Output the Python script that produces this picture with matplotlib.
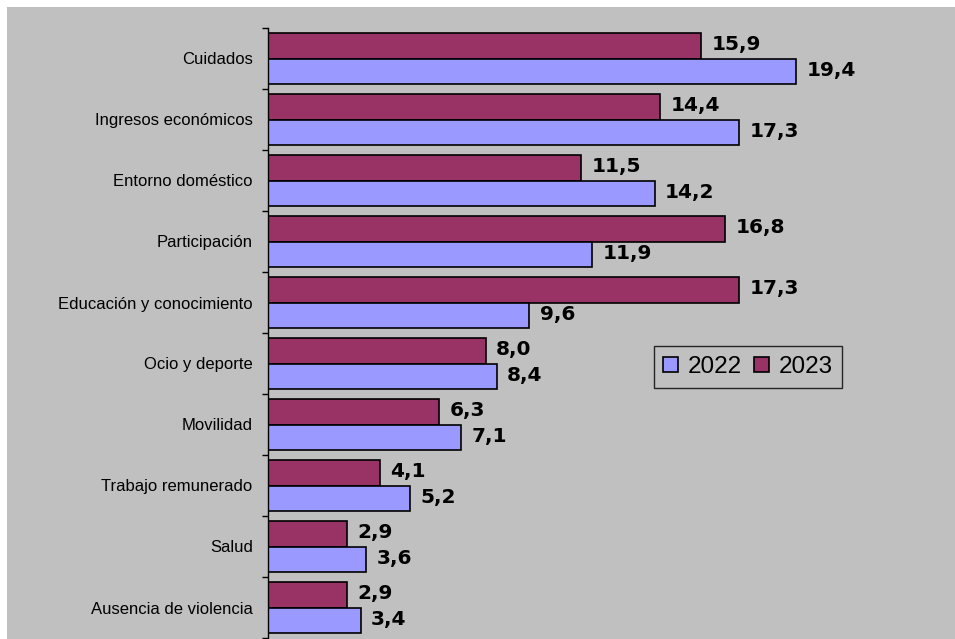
import matplotlib
matplotlib.use("Agg")
import matplotlib.pyplot as plt
from matplotlib.patches import Rectangle, Patch
import numpy as np

categories = ["Cuidados", "Ingresos económicos", "Entorno doméstico", "Participación",
              "Educación y conocimiento", "Ocio y deporte", "Movilidad",
              "Trabajo remunerado", "Salud", "Ausencia de violencia"]
values_2022 = [19.4, 17.3, 14.2, 11.9, 9.6, 8.4, 7.1, 5.2, 3.6, 3.4]
values_2023 = [15.9, 14.4, 11.5, 16.8, 17.3, 8.0, 6.3, 4.1, 2.9, 2.9]
series_labels = ["2022", "2023"]

C2022 = "#9999FF"
C2023 = "#993366"
BG = "#C0C0C0"

W, H = 955, 639
fig = plt.figure(figsize=(W / 100, H / 100), dpi=100)
fig.patch.set_facecolor("white")
fig.patches.append(Rectangle((7 / W, 0), 1 - 7 / W, 1 - 7 / H, transform=fig.transFigure,
                             facecolor=BG, edgecolor="none", zorder=-10))

ax = fig.add_axes([268 / W, 1 / H, 672 / W, 610 / H])
ax.set_facecolor("none")
ax.set_zorder(1)

n = len(categories)
y = np.arange(n)
bh = 0.426
ax.barh(y - bh / 2, values_2023, height=bh, color=C2023, edgecolor="black", linewidth=1.2)
ax.barh(y + bh / 2, values_2022, height=bh, color=C2022, edgecolor="black", linewidth=1.2)

ax.set_xlim(0, 672 / 27.22)
ax.set_ylim(n - 0.5, -0.5)

for spine in ["top", "right", "bottom"]:
    ax.spines[spine].set_visible(False)
ax.spines["left"].set_color("black")
ax.spines["left"].set_linewidth(1.0)
ax.set_xticks([])

ax.set_yticks(y)
ax.set_yticklabels(categories, fontsize=12, family="Liberation Sans")
ax.tick_params(axis="y", which="major", length=0, pad=11)
ax.set_yticks(np.arange(n + 1) - 0.5, minor=True)
ax.tick_params(axis="y", which="minor", length=4.5, width=1, color="black")

def fmt(v):
    return f"{v:.1f}".replace(".", ",")

for i in range(n):
    ax.annotate(fmt(values_2023[i]), xy=(values_2023[i], y[i] - bh / 2), xytext=(7.5, 1),
                textcoords="offset points", va="center", ha="left",
                fontsize=14.5, fontweight="bold", family="DejaVu Sans")
    ax.annotate(fmt(values_2022[i]), xy=(values_2022[i], y[i] + bh / 2), xytext=(7.5, 1),
                textcoords="offset points", va="center", ha="left",
                fontsize=14.5, fontweight="bold", family="DejaVu Sans")

handles = [Patch(facecolor=C2022, edgecolor="black", linewidth=1.2, label=series_labels[0]),
           Patch(facecolor=C2023, edgecolor="black", linewidth=1.2, label=series_labels[1])]
leg = fig.legend(handles=handles, loc="center", bbox_to_anchor=(748 / W, 1 - 367 / H),
                 ncol=2, frameon=True, fancybox=False,
                 handlelength=0.6, handleheight=0.6, handletextpad=0.4,
                 columnspacing=0.5, borderpad=0.4, prop={"family": "Liberation Sans", "size": 17.5})
leg.get_frame().set_facecolor("none")
leg.get_frame().set_edgecolor("black")
leg.get_frame().set_linewidth(1.0)

fig.savefig("out.png", dpi=100)
